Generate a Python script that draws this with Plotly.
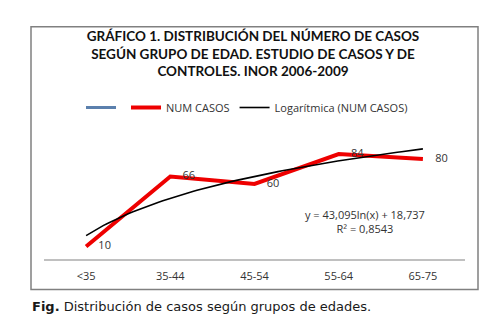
import numpy as np
import plotly.graph_objects as go

categories = ["<35", "35-44", "45-54", "55-64", "65-75"]
num_casos = [10, 66, 60, 84, 80]
x_pos = [1, 2, 3, 4, 5]

# logarithmic trendline fitted from the data (as Excel does)
lnx = np.log(np.array(x_pos, dtype=float))
yv = np.array(num_casos, dtype=float)
slope, intercept = np.polyfit(lnx, yv, 1)
pred = slope * lnx + intercept
r2 = 1 - np.sum((yv - pred) ** 2) / np.sum((yv - yv.mean()) ** 2)
xs = np.linspace(1, 5, 80)
ys = slope * np.log(xs) + intercept

def fmt(v, d):
    return f"{v:.{d}f}".replace(".", ",")

W, H = 494, 326
L, R, T, B = 44, 29, 132, 67
PW, PH = W - L - R, H - T - B

def px_x(p):
    return (p - L) / PW

def px_y(p):
    return 1 - (p - T) / PH

fig = go.Figure()
fig.add_trace(go.Scatter(x=[None], y=[None], mode="lines", name="",
                         line=dict(color="#5b80ad", width=3)))
fig.add_trace(go.Scatter(x=x_pos, y=num_casos, mode="lines+markers+text", name="NUM CASOS",
                         line=dict(color="#ee0000", width=4),
                         marker=dict(size=18, color="rgba(0,0,0,0)"),
                         text=[str(v) for v in num_casos], textposition="middle right",
                         textfont=dict(family="Open Sans", size=11, color="#333333")))
fig.add_trace(go.Scatter(x=xs, y=ys, mode="lines", name="Logarítmica (NUM CASOS)",
                         line=dict(color="black", width=1.6)))

fig.update_layout(
    width=W, height=H,
    margin=dict(l=L, r=R, t=T, b=B),
    paper_bgcolor="white", plot_bgcolor="white",
    showlegend=True,
    legend=dict(orientation="h", xref="container", yref="container",
                x=0.5, xanchor="center", y=1 - 93 / H, yanchor="top",
                font=dict(family="Open Sans", size=11, color="#333333"),
                itemwidth=30, tracegroupgap=0, bgcolor="rgba(0,0,0,0)"),
    title=dict(text="<b>GRÁFICO 1. DISTRIBUCIÓN DEL NÚMERO DE CASOS<br>SEGÚN GRUPO DE EDAD. ESTUDIO DE CASOS Y DE<br>CONTROLES. INOR 2006-2009</b>",
               xref="container", yref="container", x=253 / W, xanchor="center",
               y=1 - 41 / H, yanchor="top",
               font=dict(family="Lato", size=13.5, color="#111111")),
    xaxis=dict(range=[0.5, 5.5], tickmode="array", tickvals=x_pos, ticktext=categories,
               showgrid=False, zeroline=False, showline=True, linecolor="#c0c0c0", linewidth=2,
               ticks="", ticklabelstandoff=6,
               tickfont=dict(family="Open Sans", size=11, color="#333333"), fixedrange=True),
    yaxis=dict(range=[0, 100], visible=False, fixedrange=True),
    font=dict(family="Open Sans"),
)

fig.add_annotation(x=4.31, y=30, xref="x", yref="y", showarrow=False,
                   text=f"y = {fmt(slope, 3)}ln(x) + {fmt(intercept, 3)}<br>R² = {fmt(r2, 4)}",
                   font=dict(family="Open Sans", size=11, color="#333333"), align="center")

# caption
fig.add_annotation(x=px_x(30), y=px_y(307), xref="paper", yref="paper",
                   xanchor="left", yanchor="middle", showarrow=False,
                   text="<b>Fig.</b> Distribución de casos según grupos de edades.",
                   font=dict(family="'DejaVu Sans', Verdana, sans-serif", size=13, color="#1a1a1a"))

# chart border
fig.add_shape(type="rect", xref="paper", yref="paper",
              x0=px_x(31), x1=px_x(478), y0=px_y(290), y1=px_y(23),
              line=dict(color="#808080", width=1.5), fillcolor="rgba(0,0,0,0)", layer="below")

fig.write_html("out.html")
